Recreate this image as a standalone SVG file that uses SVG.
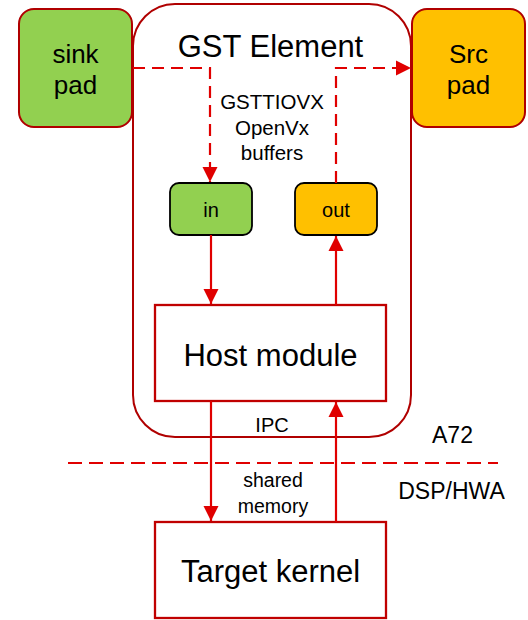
<svg xmlns="http://www.w3.org/2000/svg" width="528" height="620" viewBox="0 0 528 620">
<defs>
<style>
text{font-family:"Liberation Sans",Arial,sans-serif;fill:#000;text-anchor:middle}
.pad{stroke:#b00000;stroke-width:2}
.box{fill:#fff;stroke:#c00000;stroke-width:2.3}
.port{stroke:#000;stroke-width:1.8}
.link{fill:none;stroke:#e00000;stroke-width:2.2}
.dash{stroke-dasharray:12 7}
</style>
<marker id="ah" markerUnits="userSpaceOnUse" markerWidth="15" markerHeight="16" viewBox="0 0 15 16" refX="15" refY="8" orient="auto">
<path d="M0,0.5 L15,8 L0,15.5 Z" fill="#e00000"/>
</marker>
</defs>
<g id="gst-element">
<rect x="133" y="4" width="278" height="433" rx="42" ry="42" fill="#fff" stroke="#b00000" stroke-width="2"/>
<text x="270.5" y="57" font-size="31">GST Element</text>
</g>
<g id="sink-pad">
<rect class="pad" x="19" y="9" width="113" height="118" rx="15" fill="#92d050"/>
<text x="75.5" y="63" font-size="26">sink</text>
<text x="75.5" y="94" font-size="26">pad</text>
</g>
<g id="src-pad">
<rect class="pad" x="412" y="9" width="113" height="118" rx="15" fill="#ffc000"/>
<text x="468.5" y="63" font-size="26">Src</text>
<text x="468.5" y="94" font-size="26">pad</text>
</g>
<g id="in">
<rect class="port" x="170" y="183" width="82" height="52" rx="9" fill="#92d050"/>
<text x="211" y="217" font-size="20">in</text>
</g>
<g id="out">
<rect class="port" x="295" y="183" width="82" height="52" rx="9" fill="#ffc000"/>
<text x="336" y="217" font-size="20">out</text>
</g>
<g id="host-module">
<rect class="box" x="155" y="305" width="231" height="96"/>
<text x="270.5" y="366" font-size="31">Host module</text>
</g>
<g id="target-kernel">
<rect class="box" x="155" y="522" width="231" height="96"/>
<text x="270.5" y="582" font-size="31">Target kernel</text>
</g>
<g id="connectors">
<path class="link dash" d="M133,68 H210 V182" marker-end="url(#ah)"/>
<path class="link dash" d="M336,183 V68 H411" marker-end="url(#ah)"/>
<path class="link" d="M211,235 V304" marker-end="url(#ah)"/>
<path class="link" d="M336,305 V236" marker-end="url(#ah)"/>
<path class="link" d="M211,401 V521" marker-end="url(#ah)"/>
<path class="link" d="M336,522 V402" marker-end="url(#ah)"/>
<path class="link" d="M68,463 H498" stroke-dasharray="14 7"/>
</g>
<g id="labels">
<text x="272" y="109" font-size="20.5">GSTTIOVX</text>
<text x="272" y="135" font-size="20.5">OpenVx</text>
<text x="272" y="160" font-size="20.5">buffers</text>
<text x="272" y="432" font-size="20">IPC</text>
<text x="273" y="487" font-size="19.5">shared</text>
<text x="273" y="513" font-size="19.5">memory</text>
<text x="452.5" y="443" font-size="23">A72</text>
<text x="451.5" y="499" font-size="23">DSP/HWA</text>
</g>
</svg>
